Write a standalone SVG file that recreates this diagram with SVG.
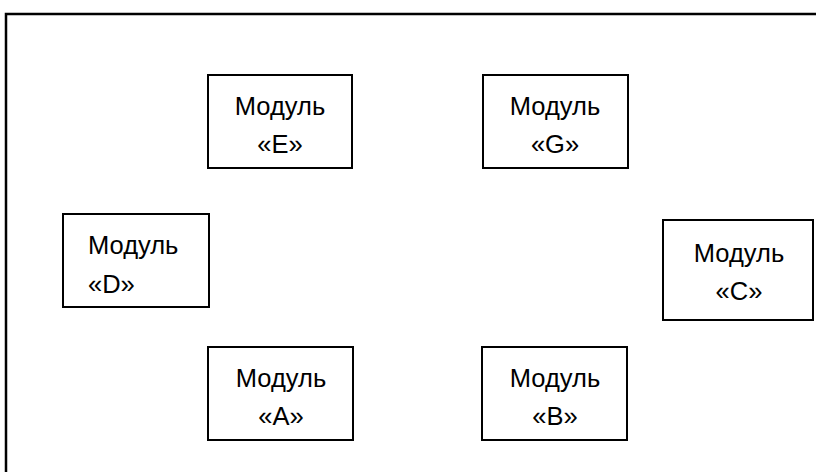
<svg xmlns="http://www.w3.org/2000/svg" width="816" height="472" viewBox="0 0 816 472">
<style>
.frame{fill:none;stroke:#000;stroke-width:2.5}
.box{fill:#fff;stroke:#000;stroke-width:2}
.t{font-family:"Liberation Sans",Arial,sans-serif;font-size:25.5px;fill:#000}
.c{text-anchor:middle}
</style>
<rect width="816" height="472" fill="#fff"/>
<rect class="frame" x="6" y="14" width="900" height="600"/>
<g id="connectors"></g>
<g id="nodeE">
<rect class="box" x="208" y="75" width="144" height="93"/>
<text class="t c" x="280" y="115">Модуль</text>
<text class="t c" x="280" y="153">«E»</text>
</g>
<g id="nodeG">
<rect class="box" x="483" y="75" width="145" height="93"/>
<text class="t c" x="555" y="115">Модуль</text>
<text class="t c" x="555" y="153">«G»</text>
</g>
<g id="nodeD">
<rect class="box" x="63" y="214" width="146" height="93"/>
<text class="t" x="88" y="254">Модуль</text>
<text class="t" x="88" y="293">«D»</text>
</g>
<g id="nodeC">
<rect class="box" x="663" y="220" width="150" height="100"/>
<text class="t c" x="739" y="262">Модуль</text>
<text class="t c" x="739" y="300">«C»</text>
</g>
<g id="nodeA">
<rect class="box" x="208" y="347" width="145" height="93"/>
<text class="t c" x="281" y="387">Модуль</text>
<text class="t c" x="281" y="425">«A»</text>
</g>
<g id="nodeB">
<rect class="box" x="482" y="347" width="145" height="93"/>
<text class="t c" x="555" y="387">Модуль</text>
<text class="t c" x="555" y="425">«B»</text>
</g>
</svg>
